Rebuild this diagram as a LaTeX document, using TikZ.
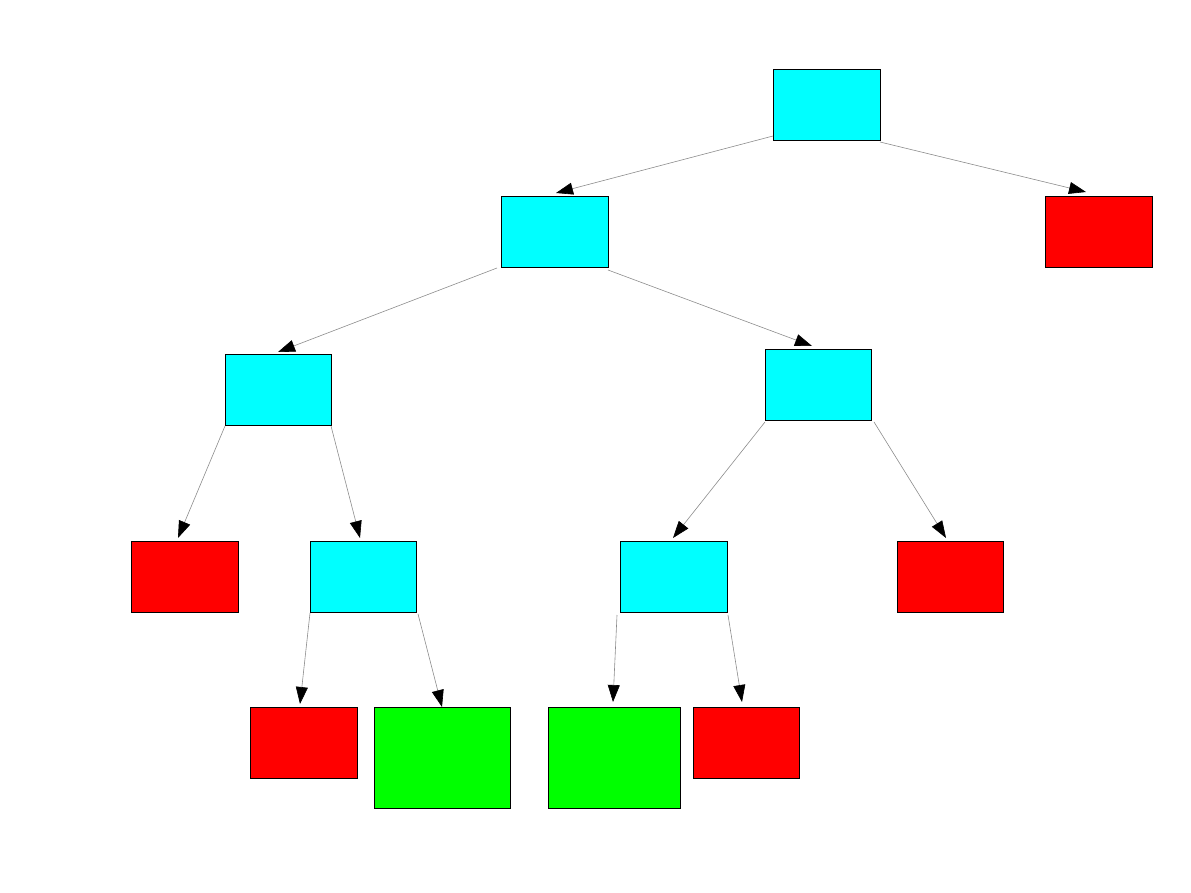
\documentclass[tikz,border=0pt]{standalone}
\usetikzlibrary{arrows.meta}
\definecolor{cyanbox}{RGB}{0,255,255}
\definecolor{redbox}{RGB}{255,0,0}
\definecolor{greenbox}{RGB}{0,255,0}
\tikzset{
  box/.style={draw=black, line width=0.8pt, inner sep=0pt, outer sep=0pt, minimum width=107pt, minimum height=71pt},
  cbox/.style={box, fill=cyanbox},
  rbox/.style={box, fill=redbox},
  gbox/.style={box, fill=greenbox, minimum height=101pt},
  edge/.style={draw=gray!90, line width=0.6pt, -{Triangle[length=17pt,width=12pt,color=black]}}
}
\begin{document}
\begin{tikzpicture}[x=1pt,y=-1pt]
\useasboundingbox (0,0) rectangle (1191,893);
\node[cbox] (root) at (826.5,104.5) {};
\node[cbox] (l1) at (554.5,231.5) {};
\node[rbox] (r1) at (1098.5,231.5) {};
\node[cbox, minimum width=106pt] (l2a) at (278,389.5) {};
\node[cbox, minimum width=106pt] (l2b) at (818,384.5) {};
\node[rbox] (r3a) at (184.5,576.5) {};
\node[cbox, minimum width=106pt] (c3b) at (363,576.5) {};
\node[cbox] (c3c) at (673.5,576.5) {};
\node[rbox, minimum width=106pt] (r3d) at (950,576.5) {};
\node[rbox] (r4a) at (303.5,742.5) {};
\node[gbox, minimum width=136pt] (g4b) at (442,757.5) {};
\node[gbox, minimum width=132pt] (g4c) at (614,757.5) {};
\node[rbox, minimum width=106pt] (r4d) at (746,742.5) {};

\draw[edge] ([shift={(0pt,4pt)}]root.south west) -- ([shift={(1.5pt,3pt)}]l1.north);
\draw[edge] ([shift={(0pt,-2pt)}]root.south east) -- ([shift={(-12.5pt,4pt)}]r1.north);
\draw[edge] ([shift={(-4pt,-1pt)}]l1.south west) -- ([shift={(0pt,2pt)}]l2a.north);
\draw[edge] ([shift={(0pt,-3pt)}]l1.south east) -- ([shift={(-6pt,3pt)}]l2b.north);
\draw[edge] ([shift={(0pt,-1pt)}]l2a.south west) -- ([shift={(-6.5pt,3pt)}]r3a.north);
\draw[edge] ([shift={(0pt,-1pt)}]l2a.south east) -- ([shift={(-3pt,3pt)}]c3b.north);
\draw[edge] ([shift={(0pt,-1pt)}]c3b.south west) -- ([shift={(-3.5pt,3pt)}]r4a.north);
\draw[edge] ([shift={(2pt,-2pt)}]c3b.south east) -- ([shift={(0pt,0pt)}]g4b.north);
\draw[edge] ([shift={(0pt,-2pt)}]l2b.south west) -- ([shift={(-0.5pt,3pt)}]c3c.north);
\draw[edge] ([shift={(3pt,-2pt)}]l2b.south east) -- ([shift={(-4pt,3pt)}]r3d.north);
\draw[edge] ([shift={(-3pt,-3pt)}]c3c.south west) -- ([shift={(-1pt,5pt)}]g4c.north);
\draw[edge] ([shift={(1pt,-3pt)}]c3c.south east) -- ([shift={(-4pt,5pt)}]r4d.north);
\end{tikzpicture}
\end{document}
